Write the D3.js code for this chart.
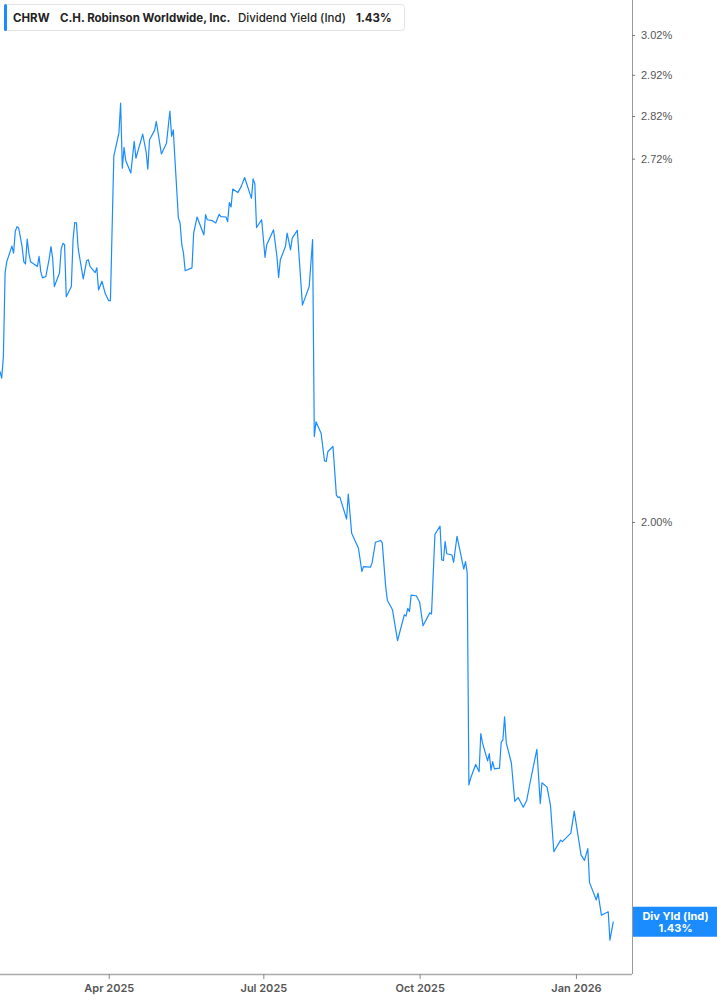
<!DOCTYPE html>
<html><head><meta charset="utf-8">
<script src="https://cdn.jsdelivr.net/npm/d3@7"></script>
<style>
html,body{margin:0;padding:0;background:#fff;}
svg{display:block;}
</style></head>
<body>
<svg id="chart" width="717" height="1005"></svg>
<script>
const dates = ["2025-01-27","2025-01-28","2025-01-29","2025-01-30","2025-01-31","2025-02-03","2025-02-04","2025-02-05","2025-02-06","2025-02-07",
"2025-02-09","2025-02-10","2025-02-11","2025-02-12","2025-02-13","2025-02-14","2025-02-18","2025-02-19","2025-02-20","2025-02-21",
"2025-02-23","2025-02-25","2025-02-26","2025-02-27","2025-02-28","2025-03-03","2025-03-04","2025-03-05","2025-03-06","2025-03-07",
"2025-03-10","2025-03-11","2025-03-12","2025-03-13","2025-03-14","2025-03-17","2025-03-19","2025-03-20","2025-03-21","2025-03-24",
"2025-03-25","2025-03-26","2025-03-28","2025-03-30","2025-04-01","2025-04-02","2025-04-04","2025-04-07","2025-04-08","2025-04-09",
"2025-04-10","2025-04-11","2025-04-14","2025-04-16","2025-04-17","2025-04-21","2025-04-23","2025-04-24","2025-04-25","2025-04-28",
"2025-04-29","2025-05-02","2025-05-05","2025-05-07","2025-05-08","2025-05-09","2025-05-10","2025-05-12","2025-05-13","2025-05-14",
"2025-05-15","2025-05-16","2025-05-20","2025-05-21","2025-05-23","2025-05-27","2025-05-28","2025-05-29","2025-06-01","2025-06-03",
"2025-06-05","2025-06-06","2025-06-09","2025-06-10","2025-06-11","2025-06-12","2025-06-13","2025-06-16","2025-06-18","2025-06-20",
"2025-06-24","2025-06-25","2025-06-26","2025-06-27","2025-06-30","2025-07-02","2025-07-03","2025-07-07","2025-07-09","2025-07-10",
"2025-07-11","2025-07-14","2025-07-15","2025-07-17","2025-07-18","2025-07-21","2025-07-24","2025-07-28","2025-07-30","2025-07-31",
"2025-08-01","2025-08-04","2025-08-06","2025-08-07","2025-08-08","2025-08-11","2025-08-13","2025-08-14","2025-08-15","2025-08-19",
"2025-08-20","2025-08-22","2025-08-26","2025-08-28","2025-08-29","2025-09-02","2025-09-03","2025-09-05","2025-09-08","2025-09-09",
"2025-09-11","2025-09-12","2025-09-15","2025-09-18","2025-09-22","2025-09-23","2025-09-24","2025-09-25","2025-09-26","2025-09-29",
"2025-10-01","2025-10-03","2025-10-07","2025-10-08","2025-10-10","2025-10-13","2025-10-14","2025-10-15","2025-10-16","2025-10-17",
"2025-10-20","2025-10-21","2025-10-23","2025-10-27","2025-10-28","2025-10-29","2025-10-30","2025-10-31","2025-11-03","2025-11-05",
"2025-11-06","2025-11-07","2025-11-10","2025-11-11","2025-11-12","2025-11-13","2025-11-14","2025-11-17","2025-11-18","2025-11-19",
"2025-11-20","2025-11-21","2025-11-24","2025-11-26","2025-11-28","2025-12-01","2025-12-03","2025-12-05","2025-12-09","2025-12-10",
"2025-12-11","2025-12-12","2025-12-15","2025-12-17","2025-12-19","2025-12-23","2025-12-24","2025-12-29","2025-12-31","2026-01-04",
"2026-01-06","2026-01-08","2026-01-09","2026-01-13","2026-01-14","2026-01-16","2026-01-18","2026-01-20","2026-01-21","2026-01-23"];

const yieldValues = [2.272,2.259,2.301,2.470,2.493,2.526,2.511,2.558,2.568,2.565,
2.525,2.493,2.488,2.541,2.511,2.493,2.483,2.504,2.472,2.459,
2.462,2.500,2.525,2.500,2.441,2.469,2.519,2.532,2.529,2.420,
2.441,2.540,2.577,2.576,2.521,2.457,2.495,2.497,2.483,2.470,
2.480,2.434,2.452,2.426,2.412,2.412,2.726,2.780,2.851,2.698,
2.746,2.716,2.687,2.760,2.721,2.777,2.736,2.696,2.764,2.786,
2.807,2.731,2.756,2.832,2.772,2.787,2.717,2.587,2.576,2.529,
2.511,2.474,2.480,2.554,2.589,2.550,2.594,2.583,2.581,2.576,
2.595,2.590,2.589,2.579,2.621,2.611,2.651,2.643,2.657,2.677,
2.630,2.674,2.663,2.566,2.583,2.502,2.529,2.561,2.504,2.460,
2.497,2.525,2.554,2.518,2.543,2.560,2.403,2.441,2.540,2.150,
2.177,2.156,2.106,2.105,2.123,2.132,2.046,2.042,2.043,2.005,
2.048,1.981,1.956,1.918,1.926,1.925,1.932,1.966,1.969,1.965,
1.894,1.872,1.857,1.809,1.849,1.847,1.859,1.854,1.880,1.879,
1.869,1.832,1.852,1.850,1.979,1.993,1.937,1.936,1.967,1.947,
1.945,1.933,1.976,1.922,1.934,1.916,1.601,1.610,1.629,1.619,
1.672,1.659,1.634,1.644,1.621,1.633,1.623,1.624,1.660,1.663,
1.696,1.659,1.631,1.579,1.584,1.571,1.580,1.604,1.650,1.613,
1.576,1.604,1.598,1.574,1.513,1.528,1.526,1.537,1.566,1.509,
1.502,1.517,1.474,1.4525,1.461,1.434,1.436,1.438,1.404,1.426];

const yTickValues = [3.02, 2.92, 2.82, 2.72, 2.00];
const xTickDates = ["2025-04-01","2025-07-01","2025-10-01","2026-01-01"];
const xDomain = ["2025-01-27","2026-02-03"];
const yDomain = [1.3643, 3.1109];
const ticker = "CHRW";
const company = "C.H. Robinson Worldwide, Inc.";
const metric = "Dividend Yield (Ind)";
const lastLabel = "Div Yld (Ind)";

const parse = d3.timeParse("%Y-%m-%d");
const data = dates.map((d,i)=>({date:parse(d), v:yieldValues[i]}));
const last = data[data.length-1];
const lastText = d3.format(".2f")(last.v)+"%";

const svg = d3.select("#chart");
const plotW = 632, plotH = 974;
const blue = "#1a8cff";

const x = d3.scaleTime().domain(xDomain.map(parse)).range([0, plotW]);
const y = d3.scaleLog().domain(yDomain).range([plotH, 0]);

// line
svg.append("path")
  .datum(data)
  .attr("fill","none")
  .attr("stroke",blue)
  .attr("stroke-width",1.2)
  .attr("stroke-linejoin","round")
  .attr("d", d3.line().x(d=>x(d.date)).y(d=>y(d.v)));

// right axis
const yAxis = d3.axisRight(y).tickValues(yTickValues).tickSize(3).tickPadding(6)
  .tickFormat(d=>d3.format(".2f")(d)+"%");
const ya = svg.append("g").attr("transform",`translate(${plotW},0)`).call(yAxis);
ya.select(".domain").attr("stroke","#999").attr("d",`M0.5,0V${plotH}`);
ya.selectAll(".tick line").attr("stroke","#777");
ya.selectAll(".tick text").attr("fill","#555").style("font-family","'Liberation Sans', Arial, sans-serif").style("font-size","11px");

// bottom axis
const fmt = d3.timeFormat("%b %Y");
const xAxis = d3.axisBottom(x).tickValues(xTickDates.map(parse)).tickSize(5).tickPadding(5).tickFormat(fmt);
const xa = svg.append("g").attr("transform",`translate(0,${plotH})`).call(xAxis);
xa.select(".domain").attr("stroke","#aaa").attr("stroke-width",1.5).attr("d",`M0,0.5H${plotW}`);
xa.selectAll(".tick line").attr("stroke","#888");
xa.selectAll(".tick text").attr("fill","#555").style("font-family","Inter, 'Noto Sans', sans-serif").style("font-size","11px").style("font-weight","600");

// last value label
const ly = y(last.v);
svg.append("rect").attr("x",plotW+1).attr("y",ly-15).attr("width",717-plotW-1).attr("height",30).attr("fill",blue);
svg.append("text").attr("x",(plotW+717)/2+1).attr("y",ly-2).attr("text-anchor","middle")
  .attr("fill","#fff").style("font-family","Inter, 'Noto Sans', sans-serif").style("font-size","11px").style("font-weight","700").text(lastLabel);
svg.append("text").attr("x",(plotW+717)/2+1).attr("y",ly+10).attr("text-anchor","middle")
  .attr("fill","#fff").style("font-family","Inter, 'Noto Sans', sans-serif").style("font-size","11px").style("font-weight","700").text(lastText);

// legend
const lg = svg.append("g");
lg.append("rect").attr("x",4.5).attr("y",4.5).attr("width",400).attr("height",26).attr("rx",3)
  .attr("fill","#fff").attr("stroke","#e4e4e4");
lg.append("rect").attr("x",4).attr("y",4).attr("width",3).attr("height",27).attr("rx",1.5).attr("fill",blue);
const tstyle = s => s.style("font-family","Inter, 'Noto Sans', sans-serif").style("font-size","11.5px").attr("fill","#222");
tstyle(lg.append("text").attr("x",13).attr("y",21.5).style("font-weight","700").text(ticker));
tstyle(lg.append("text").attr("x",60).attr("y",21.5).style("font-weight","700").text(company));
tstyle(lg.append("text").attr("x",238).attr("y",21.5).style("font-weight","500").text(metric));
tstyle(lg.append("text").attr("x",356).attr("y",21.5).style("font-weight","700").text(lastText));
</script>
</body></html>
